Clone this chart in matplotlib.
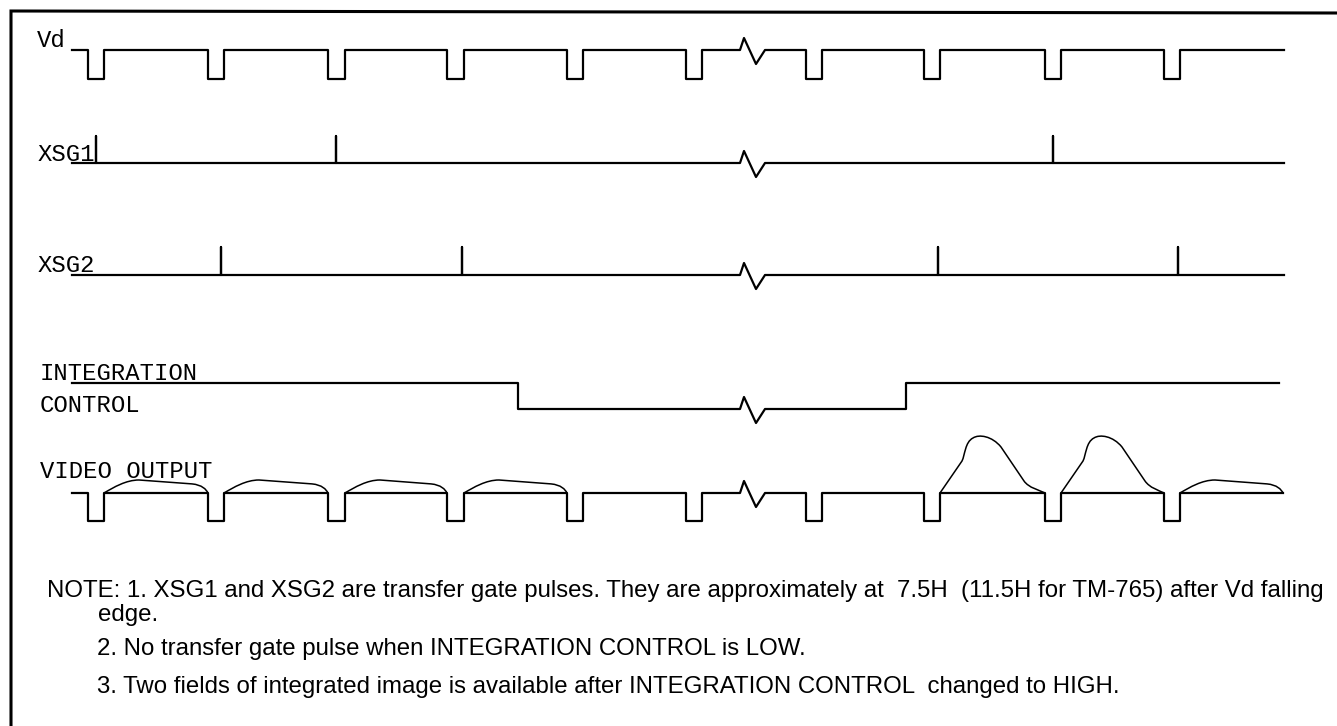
import numpy as np
import matplotlib
matplotlib.use("Agg")
import matplotlib.pyplot as plt
from matplotlib.path import Path
from matplotlib.patches import PathPatch

# time axis is in drawing units (left -> right), levels are in drawing rows (top -> down)
t_start, t_end = 72, 1284

# Vd falling / rising edges
vd_falls = [88, 208, 328, 447, 567, 686, 806, 924, 1045, 1164]
vd_rises = [104, 224, 345, 464, 583, 702, 822, 940, 1061, 1180]
vd_hi, vd_lo = 50, 79

# transfer gate pulses
xsg1_pulses = [96, 336, 1053]
xsg1_base, xsg1_top = 163, 136
xsg2_pulses = [221, 462, 938, 1178]
xsg2_base, xsg2_top = 275, 247

# integration control
int_fall, int_rise, int_end = 518, 906, 1279
int_hi, int_lo = 383, 409

# video output
vid_hi, vid_lo = 493, 521
vid_end = 1283
small_fields = [0, 1, 2, 3, 9]   # fields (after rise i) with small signal
big_fields = [7, 8]              # fields with integrated (two-field) signal
small_amp, big_amp = 13, 57

# time break (zig-zag) shown on every trace
brk_x = [740, 744, 756, 765]
brk_dy = [0, -12, 14, 0]

labels = ["Vd", "XSG1", "XSG2", "INTEGRATION", "CONTROL", "VIDEO OUTPUT"]
label_pos = [(37, 47), (38, 161), (38, 272), (40, 380), (40, 412), (40, 478)]

notes = [
    "NOTE: 1. XSG1 and XSG2 are transfer gate pulses. They are approximately at  7.5H  (11.5H for TM-765) after Vd falling",
    "edge.",
    "2. No transfer gate pulse when INTEGRATION CONTROL is LOW.",
    "3. Two fields of integrated image is available after INTEGRATION CONTROL  changed to HIGH.",
]
note_pos = [(47, 597), (98, 621), (97, 655), (97, 693)]


def pulse_train(falls, rises, hi, lo, start, end):
    xs, ys = [start], [hi]
    for f, r in zip(falls, rises):
        xs += [f, f, r, r]
        ys += [hi, lo, lo, hi]
    xs.append(end)
    ys.append(hi)
    return xs, ys


def spikes(pos, base, top, start, end):
    xs, ys = [start], [base]
    for p in pos:
        xs += [p, p, p]
        ys += [base, top, base]
    xs.append(end)
    ys.append(base)
    return xs, ys


def with_break(xs, ys):
    i = int(np.searchsorted(xs, brk_x[0]))
    lvl = ys[i - 1]
    return xs[:i] + brk_x + xs[i:], ys[:i] + [lvl + d for d in brk_dy] + ys[i:]


def small_hump(r, f, base, amp):
    verts = [(r, base), (r + 10, base - amp * 0.45), (r + 22, base - amp), (r + 35, base - amp),
             (f - 16, base - amp * 0.7),
             (f - 6, base - amp * 0.62), (f - 2, base - amp * 0.3), (f, base)]
    codes = [Path.MOVETO, Path.CURVE4, Path.CURVE4, Path.CURVE4, Path.LINETO,
             Path.CURVE4, Path.CURVE4, Path.CURVE4]
    return Path(verts, codes)


def big_hump(r, f, base, amp):
    k = amp / 57.0
    verts = [(r, base), (r + 22, base - 32 * k),
             (r + 25, base - 38 * k), (r + 25, base - 51 * k), (r + 33, base - 55 * k),
             (r + 39, base - 59 * k), (r + 52, base - 57 * k), (r + 61, base - 46 * k),
             (r + 84, base - 12 * k),
             (r + 89, base - 5 * k), (f - 6, base - 3 * k), (f, base)]
    codes = [Path.MOVETO, Path.LINETO,
             Path.CURVE4, Path.CURVE4, Path.CURVE4,
             Path.CURVE4, Path.CURVE4, Path.CURVE4,
             Path.LINETO,
             Path.CURVE4, Path.CURVE4, Path.CURVE4]
    return Path(verts, codes)


fig = plt.figure(figsize=(13.37, 7.26), dpi=100)
ax = fig.add_axes([0, 0, 1, 1])
ax.set_xlim(0, 1337)
ax.set_ylim(726, 0)
ax.axis("off")

lw = 1.6
# outer frame (top + left only, the rest is cut off)
ax.plot([11, 11, 1337], [726, 11, 13], color="black", lw=2.2, solid_joinstyle="miter")

# Vd
x, y = with_break(*pulse_train(vd_falls, vd_rises, vd_hi, vd_lo, t_start, t_end))
ax.plot(x, y, color="black", lw=lw)

# XSG1 / XSG2
x, y = with_break(*spikes(xsg1_pulses, xsg1_base, xsg1_top, t_start, t_end))
ax.plot(x, y, color="black", lw=lw)
x, y = with_break(*spikes(xsg2_pulses, xsg2_base, xsg2_top, t_start, t_end))
ax.plot(x, y, color="black", lw=lw)

# integration control
x, y = with_break([t_start, int_fall, int_fall, int_rise, int_rise, int_end],
                  [int_hi, int_hi, int_lo, int_lo, int_hi, int_hi])
ax.plot(x, y, color="black", lw=lw)

# video output
x, y = with_break(*pulse_train(vd_falls, vd_rises, vid_hi, vid_lo, t_start, vid_end))
ax.plot(x, y, color="black", lw=lw)
ends = vd_falls[1:] + [vid_end]
for i in small_fields:
    ax.add_patch(PathPatch(small_hump(vd_rises[i], ends[i], vid_hi, small_amp),
                           fill=False, lw=1.1, ec="black"))
for i in big_fields:
    ax.add_patch(PathPatch(big_hump(vd_rises[i], ends[i], vid_hi, big_amp),
                           fill=False, lw=1.1, ec="black"))

for txt, (lx, ly) in zip(labels, label_pos):
    ax.text(lx, ly, txt, family="Liberation Mono", fontsize=17.2, va="baseline", ha="left")

for txt, (nx, ny) in zip(notes, note_pos):
    ax.text(nx, ny, txt, family="Liberation Sans", fontsize=17.3, va="baseline", ha="left")

fig.savefig("out.png", dpi=100)
